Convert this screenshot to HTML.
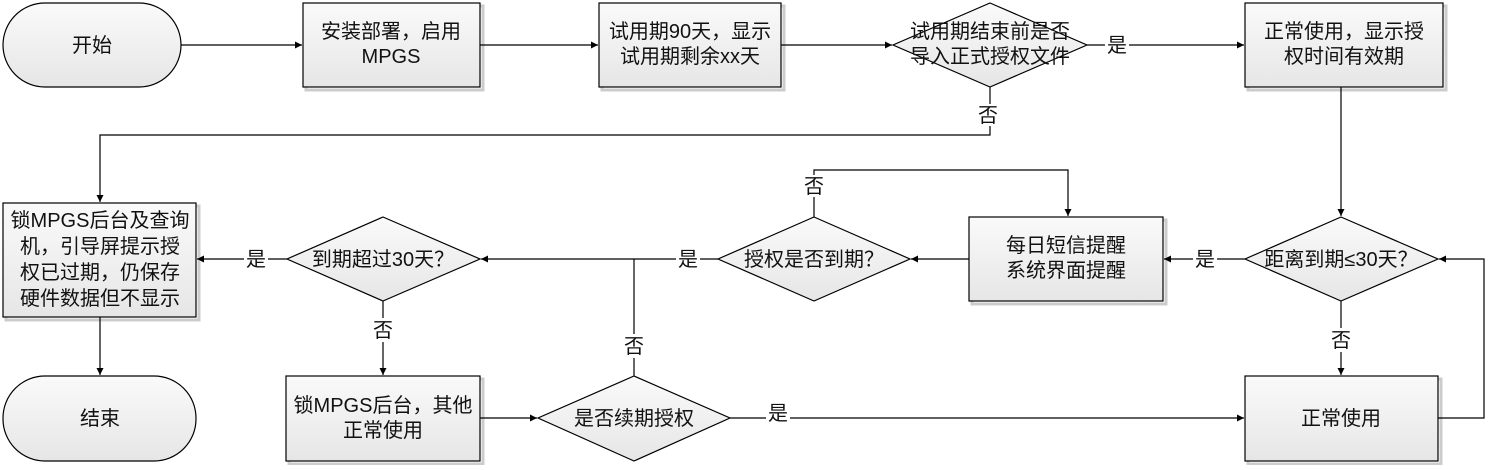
<!DOCTYPE html>
<html><head><meta charset="utf-8"><style>
html,body{margin:0;padding:0;background:#fff;}
svg text{font-family:"Liberation Sans Narrow","Liberation Sans","Noto Sans CJK SC",sans-serif;font-size:20px;fill:#111;}
</style></head><body>
<svg width="1493" height="465" viewBox="0 0 1493 465" xmlns="http://www.w3.org/2000/svg">
<defs>
<linearGradient id="g" x1="0" y1="0" x2="0" y2="1"><stop offset="0" stop-color="#fafafa"/><stop offset="1" stop-color="#e6e6e6"/></linearGradient>
<marker id="a" markerWidth="8" markerHeight="8" refX="7" refY="4" orient="auto" markerUnits="userSpaceOnUse"><path d="M0,0.5 L7,4 L0,7.5 z" fill="#000"/></marker>
</defs>
<g stroke="#ccc" stroke-width="3" fill="none">
<rect x="306" y="6" width="177" height="84"/><rect x="602" y="6" width="182" height="84"/><rect x="1248" y="6" width="198" height="84"/>
<rect x="6" y="206" width="193" height="114"/><rect x="972" y="220" width="194" height="84"/><rect x="289" y="379" width="194" height="85"/><rect x="1248" y="379" width="193" height="85"/>
</g>
<g stroke="#000" stroke-width="1.2" fill="url(#g)">
<rect x="3" y="3" width="178" height="84" rx="42"/>
<rect x="3" y="376" width="193" height="85" rx="42"/>
<rect x="303" y="3" width="177" height="84"/>
<rect x="599" y="3" width="182" height="84"/>
<rect x="1245" y="3" width="198" height="84"/>
<rect x="3" y="203" width="193" height="114"/>
<rect x="969" y="217" width="194" height="84"/>
<rect x="286" y="376" width="194" height="85"/>
<rect x="1245" y="376" width="193" height="85"/>
<polygon points="990,3 1087,45 990,87 893,45"/>
<polygon points="383,217 480,259 383,301 287,259"/>
<polygon points="814,217 910,259 814,301 718,259"/>
<polygon points="1341,217 1438,259 1341,301 1245,259"/>
<polygon points="634,376 730,418 634,461 538,418"/>
</g>
<g stroke="#000" stroke-width="1.2" fill="none">
<line x1="181" y1="45" x2="302" y2="45" marker-end="url(#a)"/>
<line x1="480" y1="45" x2="598" y2="45" marker-end="url(#a)"/>
<line x1="781" y1="45" x2="892" y2="45" marker-end="url(#a)"/>
<polyline points="1087,45 1105,45"/><line x1="1129" y1="45" x2="1244" y2="45" marker-end="url(#a)"/>
<polyline points="990,87 990,104"/><polyline points="990,126 990,135 100,135 100,202" marker-end="url(#a)"/>
<line x1="1341" y1="87" x2="1341" y2="216" marker-end="url(#a)"/>
<polyline points="1245,259 1217,259"/><line x1="1193" y1="259" x2="1164" y2="259" marker-end="url(#a)"/>
<line x1="969" y1="259" x2="911" y2="259" marker-end="url(#a)"/>
<polyline points="814,217 814,197"/><polyline points="814,175 814,170 1068,170 1068,216" marker-end="url(#a)"/>
<polyline points="718,259 700,259"/><line x1="676" y1="259" x2="481" y2="259" marker-end="url(#a)"/>
<polyline points="287,259 268,259"/><line x1="244" y1="259" x2="197" y2="259" marker-end="url(#a)"/>
<line x1="100" y1="317" x2="100" y2="375" marker-end="url(#a)"/>
<polyline points="383,301 383,318"/><line x1="383" y1="342" x2="383" y2="375" marker-end="url(#a)"/>
<line x1="480" y1="418" x2="537" y2="418" marker-end="url(#a)"/>
<polyline points="634,376 634,358"/><polyline points="634,334 634,259"/>
<polyline points="730,418 766,418"/><line x1="790" y1="418" x2="1244" y2="418" marker-end="url(#a)"/>
<polyline points="1341,301 1341,328"/><line x1="1341" y1="352" x2="1341" y2="375" marker-end="url(#a)"/>
<polyline points="1438,418 1484,418 1484,259 1439,259" marker-end="url(#a)"/>
</g>
<g text-anchor="middle">
<text x="92" y="52">开始</text>
<text x="391" y="38">安装部署，启用</text><text x="391" y="63">MPGS</text>
<text x="690" y="38">试用期90天，显示</text><text x="690" y="63">试用期剩余xx天</text>
<text x="990" y="38">试用期结束前是否</text><text x="990" y="63">导入正式授权文件</text>
<text x="1117" y="52">是</text>
<text x="988" y="122">否</text>
<text x="1344" y="38">正常使用，显示授</text><text x="1344" y="63">权时间有效期</text>
<text x="100" y="227">锁MPGS后台及查询</text><text x="100" y="253">机，引导屏提示授</text><text x="100" y="279">权已过期，仍保存</text><text x="100" y="305">硬件数据但不显示</text>
<text x="256" y="266">是</text>
<text x="383" y="266">到期超过30天？</text>
<text x="688" y="266">是</text>
<text x="814" y="266">授权是否到期？</text>
<text x="814" y="193">否</text>
<text x="1066" y="252">每日短信提醒</text><text x="1066" y="277">系统界面提醒</text>
<text x="1205" y="266">是</text>
<text x="1341" y="266">距离到期≤30天？</text>
<text x="1341" y="347">否</text>
<text x="383" y="337">否</text>
<text x="634" y="353">否</text>
<text x="100" y="425">结束</text>
<text x="383" y="412">锁MPGS后台，其他</text><text x="383" y="437">正常使用</text>
<text x="634" y="425">是否续期授权</text>
<text x="778" y="420">是</text>
<text x="1341" y="425">正常使用</text>
</g>
</svg>
</body></html>
